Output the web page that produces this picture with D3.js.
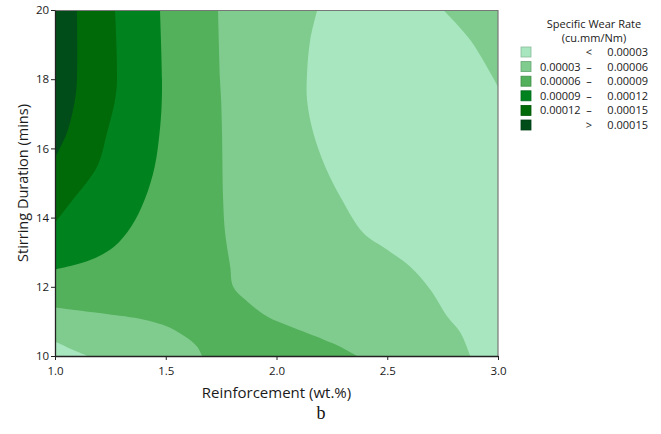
<!DOCTYPE html>
<html>
<head>
<meta charset="utf-8">
<script src="https://cdn.jsdelivr.net/npm/d3@7"></script>
<style>
  body { margin: 0; background: #fff; }
  text { font-family: "Open Sans", "Noto Sans", sans-serif; }
</style>
</head>
<body>
<div id="chart"></div>
<script>

// contour bands (specific wear rate, cu.mm/Nm)
var bandLabels = [
  ["", "<", "0.00003"],
  ["0.00003", "\u2013", "0.00006"],
  ["0.00006", "\u2013", "0.00009"],
  ["0.00009", "\u2013", "0.00012"],
  ["0.00012", "\u2013", "0.00015"],
  ["", ">", "0.00015"]
];
var bandColors = ["#a8e6bf", "#80cc8e", "#53b05b", "#00821f", "#006a08", "#004d19"];

var xTicks = [1.0, 1.5, 2.0, 2.5, 3.0];
var yTicks = [10, 12, 14, 16, 18, 20];

// contour lines, [reinforcement, duration]
// lowest band (< 0.00003), bottom left corner
var lowCorner = [[1.0, 10.42], [1.077, 10.19], [1.149, 10.0]];
// lowest band, right side
var lowRight = [[2.184, 20], [2.152, 19.13], [2.138, 18.18], [2.138, 17.40], [2.166, 16.45],
  [2.220, 15.47], [2.295, 14.52], [2.391, 13.56], [2.500, 13.07], [2.604, 12.58],
  [2.694, 11.92], [2.771, 11.14], [2.830, 10.68], [2.875, 10.0]];
var lowTopRight = [[3.0, 17.78], [2.875, 19.13], [2.753, 20]];
// 0.00006 line, right part and bottom-left part
var mid06Right = [[1.736, 20], [1.745, 17.98], [1.750, 17.40], [1.754, 16.45], [1.759, 14.52],
  [1.768, 13.56], [1.791, 12.58], [1.804, 12.01], [1.858, 11.63], [1.958, 11.14],
  [2.062, 10.85], [2.211, 10.48], [2.288, 10.27], [2.364, 10.0]];
var mid06Left = [[1.664, 10.0], [1.642, 10.27], [1.587, 10.56], [1.520, 10.82], [1.452, 10.97],
  [1.352, 11.11], [1.248, 11.20], [1.0, 11.40]];
// 0.00009 line
var line09 = [[1.474, 20], [1.483, 17.98], [1.481, 17.20], [1.472, 16.45], [1.450, 15.47],
  [1.405, 14.52], [1.345, 13.75], [1.265, 13.15], [1.150, 12.75], [1.0, 12.50]];
// 0.00012 line
var line12 = [[1.271, 20], [1.280, 17.98], [1.271, 17.40], [1.235, 16.45], [1.190, 15.47],
  [1.081, 14.52], [1.0, 13.85]];
// 0.00015 line
var line15 = [[1.099, 20], [1.099, 17.98], [1.090, 17.40], [1.054, 16.45], [1.0, 15.73]];

var width = 661, height = 434;
var margin = { left: 55, top: 10, right: 163, bottom: 78 };
var plotW = width - margin.left - margin.right;
var plotH = height - margin.top - margin.bottom;

var svg = d3.select("#chart").append("svg")
  .attr("width", width).attr("height", height);

var x = d3.scaleLinear().domain([1, 3]).range([0, plotW]);
var y = d3.scaleLinear().domain([10, 20]).range([plotH, 0]);

var g = svg.append("g").attr("transform", "translate(" + margin.left + "," + margin.top + ")");

svg.append("clipPath").attr("id", "plotClip")
  .append("rect").attr("width", plotW).attr("height", plotH);

var line = d3.line().x(d => x(d[0])).y(d => y(d[1])).curve(d3.curveCatmullRom.alpha(0.5));

// build a closed region from curved pieces joined by straight edges
function region(pieces) {
  var s = "";
  pieces.forEach(function (p, i) {
    var part;
    if (p.length === 1) {
      part = "M" + x(p[0][0]) + "," + y(p[0][1]);
    } else {
      part = line(p);
    }
    if (i > 0) part = "L" + part.slice(1);
    s += part;
  });
  return s + "Z";
}

var layers = g.append("g").attr("clip-path", "url(#plotClip)");

// base band fills the plot
layers.append("rect").attr("width", plotW).attr("height", plotH).attr("fill", bandColors[1]);

var shapes = [
  { color: bandColors[0], d: region([lowCorner, [[1.0, 10.0]]]) },
  { color: bandColors[0], d: region([lowRight, [[3.0, 10.0]], lowTopRight]) },
  { color: bandColors[2], d: region([mid06Right, mid06Left, [[1.0, 20]]]) },
  { color: bandColors[3], d: region([line09, [[1.0, 20]]]) },
  { color: bandColors[4], d: region([line12, [[1.0, 20]]]) },
  { color: bandColors[5], d: region([line15, [[1.0, 20]]]) }
];

layers.selectAll("path.band").data(shapes).enter().append("path")
  .attr("class", "band")
  .attr("d", d => d.d)
  .attr("fill", d => d.color);

// frame: gray top/right, black axes
g.append("line").attr("x1", 0).attr("x2", plotW).attr("y1", 0.5).attr("y2", 0.5)
  .attr("stroke", "#777").attr("stroke-width", 1.2);
g.append("line").attr("x1", plotW).attr("x2", plotW).attr("y1", 0).attr("y2", plotH)
  .attr("stroke", "#777").attr("stroke-width", 1.2);

var xAxis = g.append("g").attr("transform", "translate(0," + plotH + ")")
  .call(d3.axisBottom(x).tickValues(xTicks).tickFormat(d3.format(".1f")).tickSize(4).tickSizeOuter(0));
var yAxis = g.append("g")
  .call(d3.axisLeft(y).tickValues(yTicks).tickFormat(d3.format("d")).tickSize(4).tickSizeOuter(0));

[xAxis, yAxis].forEach(function (a) {
  a.select(".domain").attr("stroke", "#222").attr("stroke-width", 1.3);
  a.selectAll(".tick line").attr("stroke", "#222");
  a.selectAll(".tick text").attr("fill", "#1a1a1a").style("font-size", "11.5px")
    .style("font-family", "'Open Sans', sans-serif");
});
xAxis.selectAll(".tick text").attr("dy", "1.05em");
yAxis.selectAll(".tick text").attr("dx", "0.1em");

// axis titles
svg.append("text")
  .attr("x", margin.left + plotW / 2).attr("y", 398)
  .attr("text-anchor", "middle").attr("fill", "#1a1a1a")
  .style("font-size", "15px")
  .text("Reinforcement (wt.%)");

svg.append("text")
  .attr("transform", "translate(28," + (margin.top + plotH / 2) + ") rotate(-90)")
  .attr("text-anchor", "middle").attr("fill", "#1a1a1a")
  .style("font-size", "14.5px")
  .text("Stirring Duration (mins)");

svg.append("text")
  .attr("x", 321).attr("y", 419)
  .attr("text-anchor", "middle").attr("fill", "#111")
  .style("font-family", "'Liberation Serif', 'DejaVu Serif', serif")
  .style("font-size", "18px")
  .text("b");

// legend
var legend = svg.append("g");
legend.append("text").attr("x", 594).attr("y", 28).attr("text-anchor", "middle")
  .attr("fill", "#1a1a1a").style("font-size", "11px").text("Specific Wear Rate");
legend.append("text").attr("x", 594).attr("y", 42).attr("text-anchor", "middle")
  .attr("fill", "#1a1a1a").style("font-size", "11px").text("(cu.mm/Nm)");

var rows = legend.selectAll("g.row").data(bandLabels).enter().append("g")
  .attr("class", "row")
  .attr("transform", (d, i) => "translate(0," + (52 + i * 14.6) + ")");

rows.append("rect")
  .attr("x", 521).attr("y", -5).attr("width", 10).attr("height", 10)
  .attr("fill", (d, i) => bandColors[i])
  .attr("stroke", (d, i) => d3.color(bandColors[i]).darker(0.6))
  .attr("stroke-width", 0.8);

rows.append("text").attr("x", 540).attr("y", 4)
  .attr("fill", "#1a1a1a").style("font-size", "11px")
  .text(d => d[0]);
rows.append("text").attr("x", 589).attr("y", 4).attr("text-anchor", "middle")
  .attr("fill", "#1a1a1a").style("font-size", "11px")
  .text(d => d[1]);
rows.append("text").attr("x", 648).attr("y", 4).attr("text-anchor", "end")
  .attr("fill", "#1a1a1a").style("font-size", "11px")
  .text(d => d[2]);

</script>
</body>
</html>
